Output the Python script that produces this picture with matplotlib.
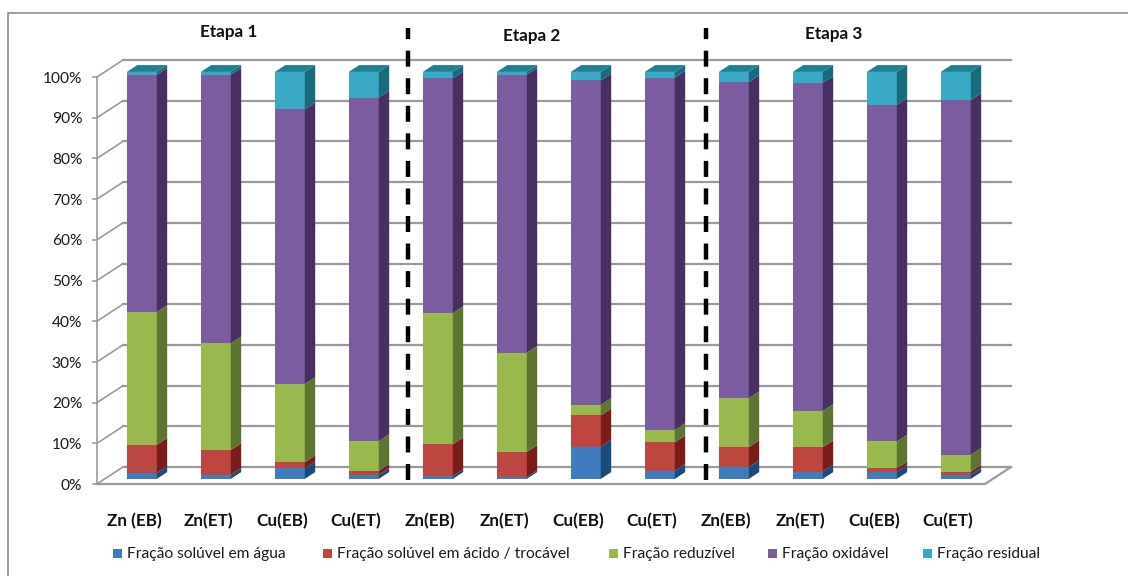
import matplotlib
matplotlib.use("Agg")
import matplotlib.pyplot as plt
from matplotlib.patches import Rectangle, Polygon
from matplotlib.lines import Line2D

plt.rcParams['font.family'] = ['Lato', 'DejaVu Sans']

# ---- data -------------------------------------------------------------
categories = ["Zn (EB)", "Zn(ET)", "Cu(EB)", "Cu(ET)",
              "Zn(EB)", "Zn(ET)", "Cu(EB)", "Cu(ET)",
              "Zn(EB)", "Zn(ET)", "Cu(EB)", "Cu(ET)"]
stages = ["Etapa 1", "Etapa 2", "Etapa 3"]
series_names = ["Fração solúvel em água",
                "Fração solúvel em ácido / trocável",
                "Fração reduzível",
                "Fração oxidável",
                "Fração residual"]
agua      = [1.4, 1.0, 2.6, 1.0, 0.7, 0.4, 7.9, 2.0, 2.9, 1.8, 1.8, 1.0]
acido     = [7.0, 6.1, 1.5, 1.0, 7.8, 6.2, 7.7, 7.0, 4.9, 6.0, 0.8, 0.8]
reduzivel = [32.6, 26.2, 19.2, 7.3, 32.2, 24.4, 2.6, 3.0, 12.0, 8.9, 6.6, 4.1]
oxidavel  = [58.3, 66.0, 67.5, 84.4, 57.7, 68.3, 79.7, 86.6, 77.7, 80.6, 82.7, 87.2]
residual  = [0.7, 0.7, 9.2, 6.3, 1.6, 0.7, 2.1, 1.4, 2.5, 2.7, 8.1, 6.9]
y_ticks = [0, 10, 20, 30, 40, 50, 60, 70, 80, 90, 100]

series = [agua, acido, reduzivel, oxidavel, residual]
front_colors = ["#3f7cbf", "#be4641", "#99b84e", "#7b5c9e", "#3aa9c6"]
side_colors  = ["#1a4b7a", "#7a1d1a", "#5e7431", "#472f62", "#186b7d"]
top_color    = "#1f7f94"

W, H = 1128, 576
fig = plt.figure(figsize=(W / 100, H / 100), dpi=100)


def fx(px):
    return px / W


def fy(py):
    return 1 - py / H


# front plane of the 3-D box: x from -0.5..11.5, y 0..100
ax = fig.add_axes([fx(97), fy(484), fx(985) - fx(97), fy(77) - fy(484)])
ax.set_xlim(-0.5, 11.5)
ax.set_ylim(0, 100)
ax.axis("off")

# depth vector (front of box -> back wall) in data units
DX, DY = 26 / 74, 17 / 4.07
n = len(categories)
x_left, x_right = -0.5, n - 0.5
grid_col = "#9a9a9a"

# back wall gridlines and left wall slants
for t in y_ticks:
    ax.add_line(Line2D([x_left + DX, x_right + DX], [t + DY, t + DY],
                       color=grid_col, lw=1.6, clip_on=False, zorder=1))
    ax.add_line(Line2D([x_left, x_left + DX], [t, t + DY],
                       color=grid_col, lw=1.2, clip_on=False, zorder=1))
    ax.add_line(Line2D([x_left - 0.05, x_left], [t, t],
                       color=grid_col, lw=1.2, clip_on=False, zorder=1))
    ax.text(x_left - 0.2, t - 0.4, f"{t}%", ha="right", va="center",
            fontsize=11.2, color="#1a1a1a")

# left axis and floor outline
ax.add_line(Line2D([x_left, x_left], [0, 100], color=grid_col, lw=1.2,
                   clip_on=False, zorder=1))
ax.add_line(Line2D([x_left, x_right, x_right + DX], [0, 0, DY],
                   color=grid_col, lw=1.6, clip_on=False, zorder=1))

# bars: front face sits at 30% of the depth, back face at 70%
bw = 0.405
ox, oy = 0.3 * DX, 0.3 * DY
ddx, ddy = 0.4 * DX, 0.4 * DY
for i in range(n):
    base = 0.0
    xl = i + ox - bw / 2
    xr = i + ox + bw / 2
    for s, vals in enumerate(series):
        h = vals[i]
        y0 = base + oy
        y1 = base + h + oy
        ax.add_patch(Rectangle((xl, y0), bw, h, facecolor=front_colors[s],
                               edgecolor="none", zorder=3, clip_on=False))
        ax.add_patch(Polygon([(xr, y0), (xr + ddx, y0 + ddy),
                              (xr + ddx, y1 + ddy), (xr, y1)], closed=True,
                             facecolor=side_colors[s], edgecolor="none",
                             zorder=3, clip_on=False))
        base += h
    top = base + oy
    ax.add_patch(Polygon([(xl, top), (xr, top), (xr + ddx, top + ddy),
                          (xl + ddx, top + ddy)], closed=True,
                         facecolor=top_color, edgecolor="none", zorder=3,
                         clip_on=False))
    ax.text(i, -9.2, categories[i], ha="center", va="center",
            fontsize=12.3, fontweight="bold", color="#111111")

# stage separators and titles
for xs in [3.70, 7.73]:
    ax.add_line(Line2D([xs, xs], [1.0, 112.0], color="black", lw=3.2,
                       dashes=(3.6, 2.6), clip_on=False, zorder=4))
stage_x = [1.28, 5.38, 9.45]
stage_y = [111.0, 110.0, 110.5]
for sx, sy, name in zip(stage_x, stage_y, stages):
    ax.text(sx, sy, name, ha="center", va="center", fontsize=12.3,
            fontweight="bold", color="#111111")

# legend row
leg_x = [113, 323, 609, 768, 923]
for lx, name, col in zip(leg_x, series_names, front_colors):
    fig.patches.append(Rectangle((fx(lx), fy(558)), fx(9), 9 / H,
                                 transform=fig.transFigure,
                                 facecolor=col, edgecolor="none"))
    fig.text(fx(lx + 14), fy(554), name, ha="left", va="center",
             fontsize=11.2, color="#1a1a1a")

# outer frame
fig.add_artist(Line2D([fx(8), fx(8), 1.0], [0.0, fy(13), fy(13)],
                      transform=fig.transFigure, color="#8c8c8c", lw=1.2))

fig.savefig("out.png", dpi=100, facecolor="white")
